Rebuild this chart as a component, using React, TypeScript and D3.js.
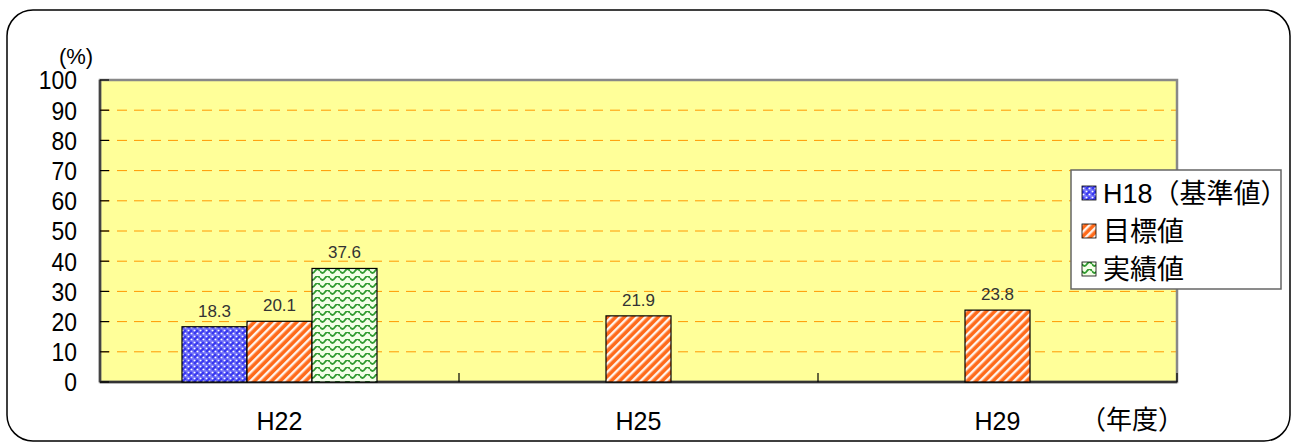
import React from 'react'
import * as d3 from 'd3'

const categories = ['H22', 'H25', 'H29']
const seriesNames = ['H18（基準値）', '目標値', '実績値']
const baseValues = [18.3, null, null]
const targetValues = [20.1, 21.9, 23.8]
const actualValues = [37.6, null, null]
const yTicks = [0, 10, 20, 30, 40, 50, 60, 70, 80, 90, 100]

const W = 1298
const H = 444
const margin = { left: 100, top: 80, right: 121, bottom: 62 }
const FONT = '"Liberation Sans", "Noto Sans CJK JP", sans-serif'

export default function App() {
  const innerW = W - margin.left - margin.right
  const innerH = H - margin.top - margin.bottom

  const x = d3.scaleBand<string>().domain(categories).range([0, innerW])
  const y = d3.scaleLinear().domain([0, 100]).range([innerH, 0])
  const sub = d3.scaleBand<number>().domain([0, 1, 2]).range([0, 195])

  const series = [baseValues, targetValues, actualValues]
  const fills = ['url(#pBlue)', 'url(#pOrange)', 'url(#pGreen)']

  return (
    <svg width={W} height={H} style={{ position: 'absolute', left: 0, top: 0 }} fontFamily={FONT}>
      <defs>
        <pattern id="pBlue" width="6" height="6" patternUnits="userSpaceOnUse">
          <rect width="6" height="6" fill="#3838f0" />
          <circle cx="1.5" cy="1.5" r="1.1" fill="#ffffff" />
          <circle cx="4.5" cy="4.5" r="1.1" fill="#ffffff" />
          <rect x="2.6" y="0" width="0.8" height="6" fill="#9a9aff" />
          <rect x="0" y="2.6" width="6" height="0.8" fill="#9a9aff" />
        </pattern>
        <pattern id="pOrange" width="6" height="6" patternUnits="userSpaceOnUse" patternTransform="rotate(45)">
          <rect width="6" height="6" fill="#ff6a1a" />
          <rect x="0" y="0" width="2.4" height="6" fill="#fff4ec" />
        </pattern>
        <pattern id="pGreen" width="10" height="7" patternUnits="userSpaceOnUse">
          <rect width="10" height="7" fill="#f4ffe8" />
          <path d="M0,2 Q2.5,6 5,2 T10,2" fill="none" stroke="#2f9a2f" strokeWidth="1.8" />
        </pattern>
      </defs>

      <rect x={7} y={10} width={1283} height={431} rx={26} fill="#fff" stroke="#000" strokeWidth={1.5} />

      <g transform={`translate(${margin.left},${margin.top})`}>
        <rect width={innerW} height={innerH} fill="#ffff99" />
        {yTicks.filter((t) => t > 0 && t < 100).map((t) => (
          <line key={t} x1={0} x2={innerW} y1={y(t)} y2={y(t)} stroke="#ff9900" strokeWidth={1} strokeDasharray="10,7" />
        ))}
        <rect width={innerW} height={innerH} fill="none" stroke="#888" strokeWidth={2.5} />
        <line x1={0} x2={innerW} y1={innerH} y2={innerH} stroke="#333" strokeWidth={2.5} />
        <line x1={0} x2={0} y1={0} y2={innerH} stroke="#444" strokeWidth={2.5} />
        {yTicks.map((t) => (
          <g key={t}>
            <line x1={0} x2={9} y1={y(t)} y2={y(t)} stroke="#000" strokeWidth={1.2} />
            <text x={-23} y={y(t)} dy="0.36em" textAnchor="end" fontSize={26} transform={`translate(-23,${y(t)}) scale(0.88,1) translate(23,${-y(t)})`}>{t}</text>
          </g>
        ))}
        {categories.slice(1).map((c) => (
          <line key={c} x1={x(c)!} x2={x(c)!} y1={innerH - 9} y2={innerH} stroke="#000" strokeWidth={1.2} />
        ))}
        <line x1={innerW} x2={innerW} y1={innerH - 9} y2={innerH} stroke="#000" strokeWidth={1.2} />

        {categories.map((c, ci) => {
          const gx = x(c)! + (x.bandwidth() - 195) / 2
          return series.map((vals, si) => {
            const v = vals[ci]
            if (v == null) return null
            const bx = gx + sub(si)!
            return (
              <g key={c + si}>
                <rect x={bx} y={y(v)} width={sub.bandwidth()} height={innerH - y(v)} fill={fills[si]} stroke="#000" strokeWidth={1.2} />
                <text x={bx + sub.bandwidth() / 2} y={y(v) - 10} textAnchor="middle" fontSize={17} fill="#333">{v.toFixed(1)}</text>
              </g>
            )
          })
        })}

        {categories.map((c) => (
          <text key={c} x={x(c)! + x.bandwidth() / 2} y={innerH + 48} textAnchor="middle" fontSize={25}>{c}</text>
        ))}
      </g>

      <text x={76} y={64} textAnchor="middle" fontSize={22}>(%)</text>
      <text x={1132} y={429} textAnchor="middle" fontSize={26}>（年度）</text>

      <g transform="translate(1071,170)">
        <rect width={210} height={119} fill="#fff" stroke="#666" strokeWidth={1.5} />
        {seriesNames.map((n, i) => (
          <g key={n} transform={`translate(11,${23 + i * 38})`}>
            <rect x={0} y={-7} width={14} height={14} fill={fills[i]} stroke="#000" strokeWidth={0.8} />
            <text x={21} y={0} dy="0.36em" fontSize={27}>{n}</text>
          </g>
        ))}
      </g>
    </svg>
  )
}
